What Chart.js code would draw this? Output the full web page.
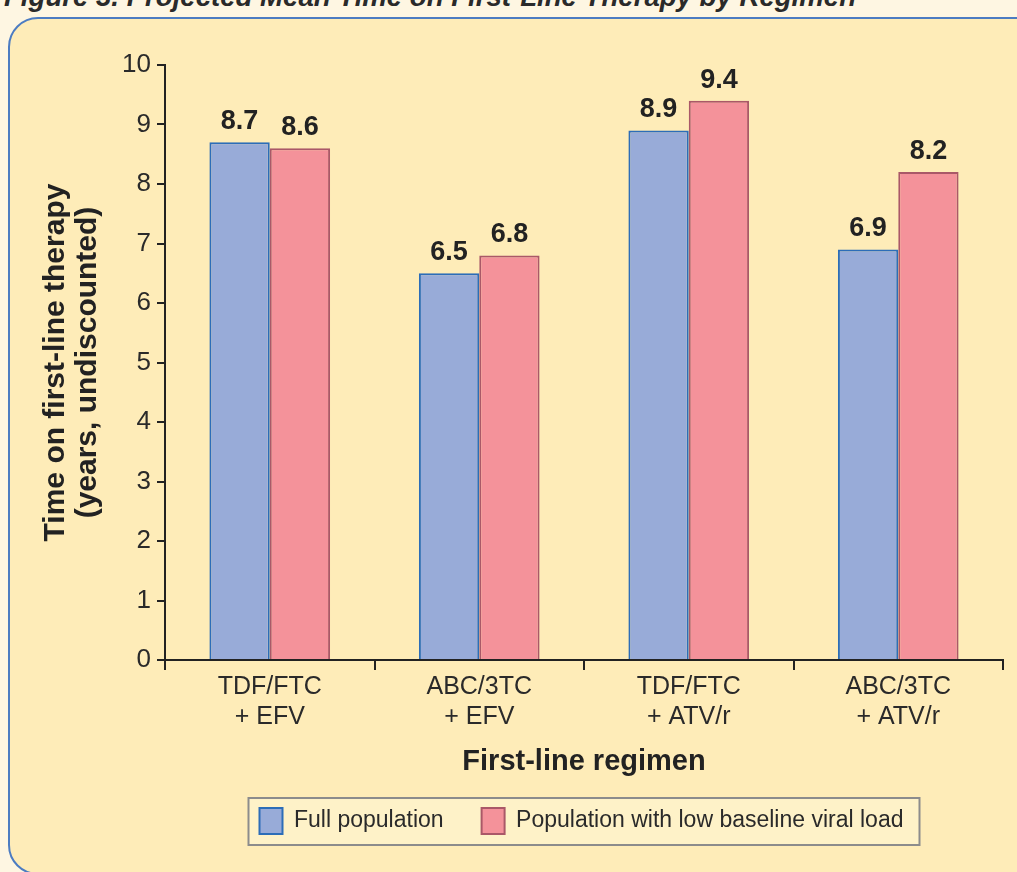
<!DOCTYPE html>
<html><head><meta charset="utf-8">
<script src="https://cdn.jsdelivr.net/npm/chart.js@4.4.1/dist/chart.umd.min.js"></script>
<style>
html,body{margin:0;padding:0;background:#FEF6E2;width:1017px;height:872px;overflow:hidden;font-family:"Liberation Sans",Arial,sans-serif;}
#title{position:absolute;left:4px;top:-18px;font-size:27.6px;line-height:30px;font-weight:bold;font-style:italic;color:#2a2a2a;white-space:nowrap;}
#panel{position:absolute;left:8px;top:17px;width:1040px;height:858px;background:#FEECB8;border:2px solid #4C7CC2;border-radius:30px;box-sizing:border-box;}
#wrap{position:absolute;left:0;top:0;width:1017px;height:872px;}
</style></head>
<body>
<div id="title">Figure 3. Projected Mean Time on First-Line Therapy by Regimen</div>
<div id="panel"></div>
<div id="wrap"><canvas id="c" width="1017" height="872"></canvas></div>
<script>
const categories = [["TDF/FTC","+ EFV"],["ABC/3TC","+ EFV"],["TDF/FTC","+ ATV/r"],["ABC/3TC","+ ATV/r"]];
const seriesNames = ["Full population","Population with low baseline viral load"];
const fullPopulation = [8.7, 6.5, 8.9, 6.9];
const lowViralLoad = [8.6, 6.8, 9.4, 8.2];
const yTicks = [0,1,2,3,4,5,6,7,8,9,10];

const FONT = '"Liberation Sans", Arial, sans-serif';
const LEGEND_PAD = 38;

const valueLabels = {
  id:'valueLabels',
  afterDatasetsDraw(chart){
    const ctx = chart.ctx;
    ctx.save();
    ctx.font = 'bold 27px ' + FONT;
    ctx.fillStyle = '#222';
    ctx.textAlign = 'center';
    ctx.textBaseline = 'alphabetic';
    chart.data.datasets.forEach((ds,i)=>{
      chart.getDatasetMeta(i).data.forEach((bar,j)=>{
        ctx.fillText(ds.data[j].toFixed(1), bar.x, bar.y - 13);
      });
    });
    ctx.restore();
  }
};
const legendShift = {
  id:'legendShift',
  afterLayout(chart){
    const l = chart.legend;
    if(!l) return;
    const dx = 60, dy = -26;
    l.left += dx; l.right += dx; l.top += dy; l.bottom += dy;
    (l.legendHitBoxes||[]).forEach(h=>{ h.left += dx; });
  }
};
const legendBox = {
  id:'legendBox',
  beforeDraw(chart){
    const l = chart.legend;
    if(!l || !l.legendHitBoxes || !l.legendHitBoxes.length) return;
    const hb = l.legendHitBoxes;
    const x0 = Math.min(...hb.map(h=>h.left)) - 11;
    const x1 = Math.max(...hb.map(h=>h.left+h.width)) + 16;
    const y0 = l.top + LEGEND_PAD - 10;
    const y1 = y0 + 47;
    const ctx = chart.ctx;
    ctx.save();
    ctx.fillStyle = '#FEF2C8';
    ctx.fillRect(x0,y0,x1-x0,y1-y0);
    ctx.strokeStyle = '#8C8C8C';
    ctx.lineWidth = 2;
    ctx.strokeRect(x0,y0,x1-x0,y1-y0);
    ctx.restore();
  }
};

new Chart(document.getElementById('c'), {
  type:'bar',
  data:{
    labels: categories,
    datasets:[
      {label:seriesNames[0], data:fullPopulation, backgroundColor:'#98ABD8', borderColor:'#2C6DB8', borderWidth:2},
      {label:seriesNames[1], data:lowViralLoad, backgroundColor:'#F4929A', borderColor:'#AA5868', borderWidth:2}
    ]
  },
  options:{
    responsive:false,
    animation:false,
    devicePixelRatio:1,
    layout:{padding:{left:40,right:14,top:65,bottom:2}},
    datasets:{bar:{categoryPercentage:0.576,barPercentage:1.0}},
    plugins:{
      tooltip:{enabled:false},
      legend:{
        position:'bottom',
        labels:{
          font:{family:FONT,size:23},
          color:'#2a2a2a',
          boxWidth:23,
          boxHeight:26,
          padding:LEGEND_PAD
        }
      }
    },
    scales:{
      x:{
        offset:true,
        border:{display:true,color:'#222',width:2},
        grid:{display:true,drawOnChartArea:false,drawTicks:true,tickLength:10,color:'#222',lineWidth:2,offset:true},
        ticks:{font:{family:FONT,size:25,lineHeight:1.2},color:'#2a2a2a',padding:2,maxRotation:0},
        title:{display:true,text:'First-line regimen',font:{family:FONT,size:29,weight:'bold'},color:'#222',padding:{top:1,bottom:17}},
        afterFit(s){ s.height = 136; }
      },
      y:{
        min:0,max:10,
        afterBuildTicks(s){ s.ticks = yTicks.map(v=>({value:v})); },
        border:{display:true,color:'#222',width:2},
        grid:{display:true,drawOnChartArea:false,drawTicks:true,tickLength:8,color:'#222',lineWidth:2},
        ticks:{font:{family:FONT,size:26},color:'#2a2a2a',padding:6},
        title:{display:true,text:['Time on first-line therapy','(years, undiscounted)'],font:{family:FONT,size:30,weight:'bold',lineHeight:1.05},color:'#222',padding:{top:0,bottom:4}},
        afterFit(s){ s.width = 125; }
      }
    }
  },
  plugins:[legendShift, legendBox, valueLabels]
});
</script>
</body></html>
